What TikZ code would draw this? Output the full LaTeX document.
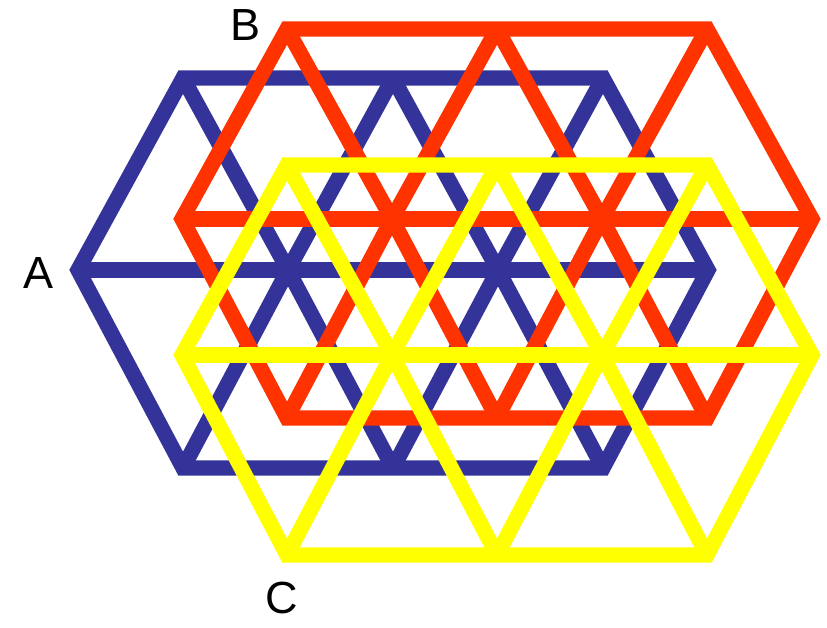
\documentclass[tikz,border=0pt]{standalone}
\usepackage{fontspec}
\setmainfont{Liberation Sans}
\definecolor{latblue}{RGB}{51, 51, 153}
\definecolor{latred}{RGB}{255, 51, 0}
\definecolor{latyellow}{RGB}{255, 255, 0}
\tikzset{
  gridline/.style={
    line width=15.3pt,
    line join=miter
  },
  letter/.style={font=\fontsize{45}{54}\selectfont, inner sep=0pt}
}
% #1 = left x, #2 = top y, #3 = middle y, #4 = bottom y, #5 = colour
\newcommand{\drawtrigrid}[5]{
  \draw[gridline, #5] (#1, #3) -- (#1+105, #2) -- (#1+525, #2) -- (#1+630, #3) -- (#1+525, #4) -- (#1+105, #4) -- cycle;
  \draw[gridline, #5] (#1, #3) -- (#1+630, #3);
  \draw[gridline, #5] (#1+105, #2) -- (#1+210, #3) -- (#1+315, #4);
  \draw[gridline, #5] (#1+315, #2) -- (#1+420, #3) -- (#1+525, #4);
  \draw[gridline, #5] (#1+315, #2) -- (#1+210, #3) -- (#1+105, #4);
  \draw[gridline, #5] (#1+525, #2) -- (#1+420, #3) -- (#1+315, #4);
}

\begin{document}
\begin{tikzpicture}[x=1pt, y=-1pt]
\useasboundingbox (0, 0) rectangle (827, 627);

% Lattice A
\drawtrigrid{78}{78}{270}{468}{latblue}

% Lattice B
\drawtrigrid{182}{29}{219}{418}{latred}

% Lattice C
\drawtrigrid{182}{165}{355}{555}{latyellow}

% Labels
\node[letter] (labA) at (39, 273) {A};
\node[letter] (labB) at (246, 25) {B};
\node[letter] (labC) at (282, 598) {C};

\end{tikzpicture}
\end{document}
